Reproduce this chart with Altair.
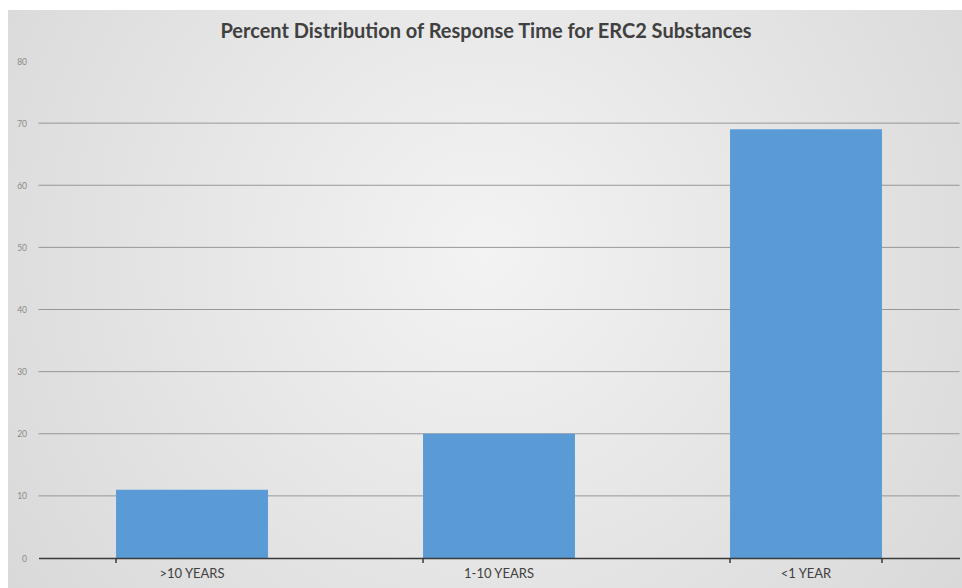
import altair as alt
import pandas as pd

# Response-time categories and their share (%) of ERC2 substances
categories = [">10 YEARS", "1-10 YEARS", "<1 YEAR"]
percents = [11, 20, 69]
y_ticks = [0, 10, 20, 30, 40, 50, 60, 70, 80]
grid_values = [10, 20, 30, 40, 50, 60, 70]

W, H = 921, 497

df = pd.DataFrame({"category": categories, "percent": percents})
grid_df = pd.DataFrame({"level": grid_values})

x_enc = alt.X("category:N", sort=categories, title=None,
              scale=alt.Scale(paddingInner=0.505, paddingOuter=0.2525),
              axis=alt.Axis(labelAngle=0, labelFont="Lato", labelFontSize=13,
                            labelColor="#404040", labelPadding=9, zindex=1,
                            ticks=False, domain=True, domainColor="#3a3a3a",
                            domainWidth=1.6, grid=False))
y_scale = alt.Scale(domain=[0, 80], nice=False)
y_axis = alt.Axis(values=y_ticks, labelFont="Lato", labelFontSize=8.5,
                  labelColor="#8a8a8a", labelPadding=12, zindex=1,
                  ticks=False, domain=False, grid=False)
y_enc = alt.Y("percent:Q", title=None, scale=y_scale, axis=y_axis)

# soft radial-gradient backdrop behind the whole chart
backdrop = alt.Chart(alt.Data(values=[{"k": 1}])).mark_rect(
    color={"gradient": "radial", "x1": 0.5, "y1": 0.45, "r1": 0,
           "x2": 0.5, "y2": 0.45, "r2": 0.75,
           "stops": [{"offset": 0, "color": "#f3f3f3"},
                     {"offset": 1, "color": "#d3d3d3"}]}
).encode(x=alt.value(-30.5), x2=alt.value(W + 3), y=alt.value(-51), y2=alt.value(H + 30))

# horizontal gridlines, kept behind the bars
grid = alt.Chart(grid_df).mark_rule(color="#8f8f8f", strokeWidth=0.9).encode(
    y=alt.Y("level:Q", title=None, scale=y_scale, axis=y_axis),
    x=alt.value(0), x2=alt.value(W))

bars = alt.Chart(df).mark_bar(color="#5b9bd5").encode(x=x_enc, y=y_enc)

# tick marks on the category axis sit at the band boundaries
ticks_left = alt.Chart(df).mark_rule(color="#3a3a3a", strokeWidth=1.5).encode(
    x=alt.X("category:N", sort=categories, bandPosition=0),
    y=alt.value(H), y2=alt.value(H + 5))
ticks_right = alt.Chart(df).transform_filter(
    alt.datum.category == categories[-1]
).mark_rule(color="#3a3a3a", strokeWidth=1.5).encode(
    x=alt.X("category:N", sort=categories, bandPosition=1),
    y=alt.value(H), y2=alt.value(H + 5))

chart = alt.layer(backdrop, grid, bars, ticks_left, ticks_right).properties(
    width=W, height=H,
    title=alt.TitleParams("Percent Distribution of Response Time for ERC2 Substances",
                          font="Lato", fontSize=20, fontWeight="bold",
                          color="#404040", anchor="middle", dx=-13, offset=14, dy=46),
    autosize=alt.AutoSizeParams(type="none"),
    padding={"left": 38.5, "top": 61, "right": 2.5, "bottom": 30},
    background="white",
).configure_view(stroke=None)

chart.save("out.html", embed_options={"renderer": "svg", "actions": False})
